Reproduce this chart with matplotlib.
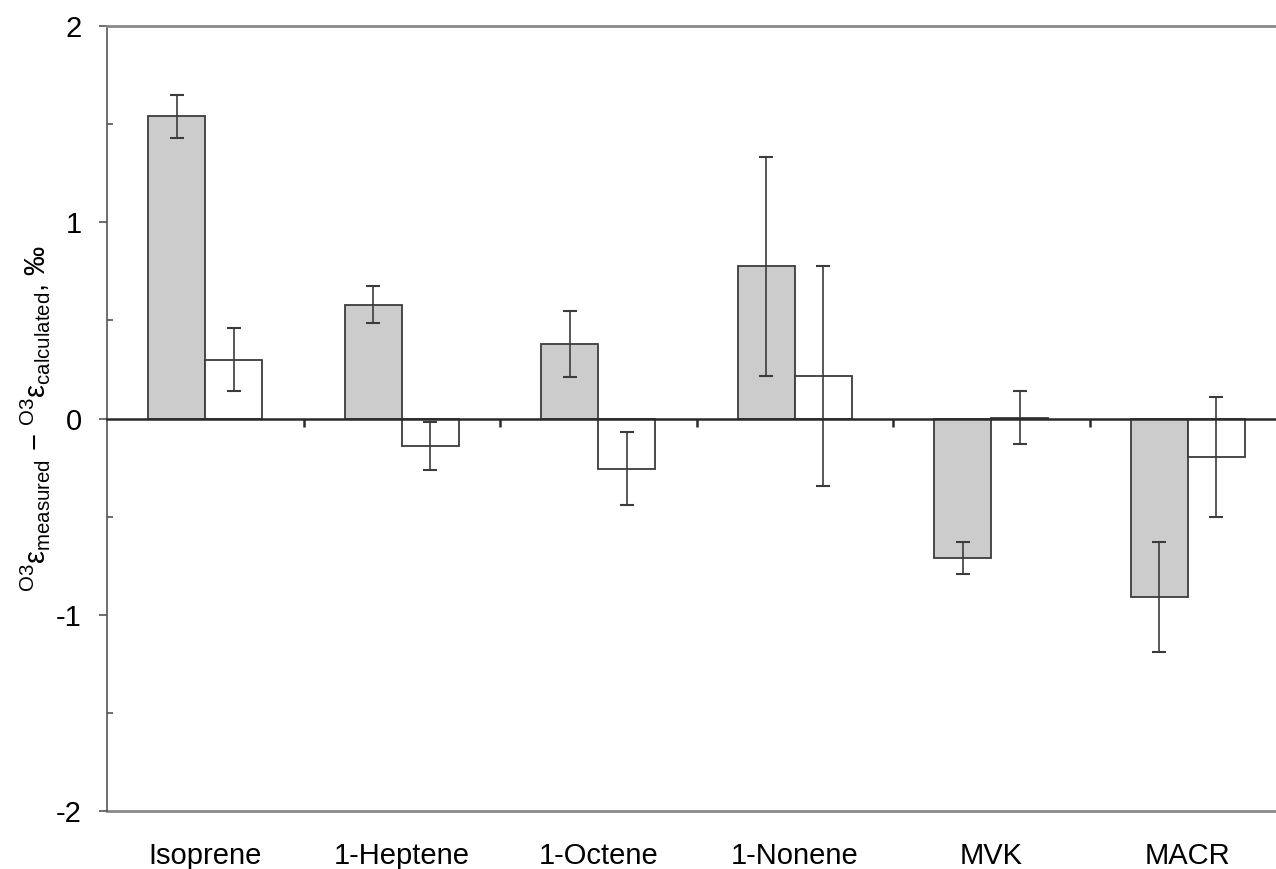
import numpy as np
import matplotlib
matplotlib.use("Agg")
import matplotlib.pyplot as plt
from matplotlib.ticker import MultipleLocator

plt.rcParams['font.family'] = ['Liberation Sans', 'DejaVu Sans']
plt.rcParams['mathtext.fontset'] = 'custom'
plt.rcParams['mathtext.rm'] = 'Liberation Sans'
plt.rcParams['mathtext.it'] = 'Liberation Sans:italic'
plt.rcParams['mathtext.bf'] = 'Liberation Sans:bold'

categories = ["Isoprene", "1-Heptene", "1-Octene", "1-Nonene", "MVK", "MACR"]
gray_vals = [1.54, 0.58, 0.38, 0.775, -0.71, -0.91]
gray_err = [0.11, 0.095, 0.17, 0.56, 0.08, 0.28]
white_vals = [0.30, -0.14, -0.255, 0.215, 0.005, -0.195]
white_err = [0.16, 0.12, 0.185, 0.56, 0.135, 0.305]
yticks = [-2, -1, 0, 1, 2]

W, H = 1276, 869
fig = plt.figure(figsize=(W / 100, H / 100), dpi=100)
ax = fig.add_axes([107 / W, 1 - 811 / H, 1179 / W, 785 / H])

x = np.arange(len(categories)) + 0.5
w = 0.29
edge = '#3c3c3c'
ax.bar(x - w / 2, gray_vals, w, color='#cccccc', edgecolor=edge, linewidth=1.3, zorder=2)
ax.bar(x + w / 2, white_vals, w, color='white', edgecolor=edge, linewidth=1.3, zorder=2)
ax.errorbar(x - w / 2, gray_vals, yerr=gray_err, fmt='none', ecolor=edge,
            elinewidth=1.2, capsize=5, capthick=1.5, zorder=3)
ax.errorbar(x + w / 2, white_vals, yerr=white_err, fmt='none', ecolor=edge,
            elinewidth=1.2, capsize=5, capthick=1.5, zorder=3)

ax.set_xlim(0, len(categories))
ax.set_ylim(-2, 2)

# zero line as x axis with boundary ticks
ax.spines['bottom'].set_position(('data', 0))
ax.spines['bottom'].set_color('#2a2a2a')
ax.spines['bottom'].set_linewidth(1.8)
ax.spines['bottom'].set_zorder(4)
ax.set_xticks(np.arange(1, len(categories)))
ax.tick_params(axis='x', direction='out', length=6, width=1.8, color='#2a2a2a',
               labelbottom=False)

ax.spines['top'].set_color('#8a8a8a')
ax.spines['top'].set_linewidth(2)
ax.spines['right'].set_visible(False)
ax.spines['left'].set_color('#555555')
ax.spines['left'].set_linewidth(1.2)

ax.set_yticks(yticks)
ax.set_yticklabels([str(t) if t >= 0 else '-' + str(-t) for t in yticks])
ax.yaxis.set_minor_locator(MultipleLocator(0.5))
ax.tick_params(axis='y', which='major', direction='out', length=6, width=1.2,
               color='#555555', labelsize=21, pad=12)
ax.tick_params(axis='y', which='minor', direction='in', length=4.5, width=1.2,
               color='#555555')

sec = ax.secondary_xaxis('bottom')
sec.set_xticks(x, labels=categories)
sec.tick_params(length=0, pad=22, labelsize=21)
sec.spines['bottom'].set_color('#8a8a8a')
sec.spines['bottom'].set_linewidth(2)

ax.set_ylabel(r'$^{\rm O3}\mathrm{ε}_{\rm measured}$ − $^{\rm O3}\mathrm{ε}_{\rm calculated}$, ‰',
              fontsize=21, labelpad=3)

fig.savefig('out.png', dpi=100)
